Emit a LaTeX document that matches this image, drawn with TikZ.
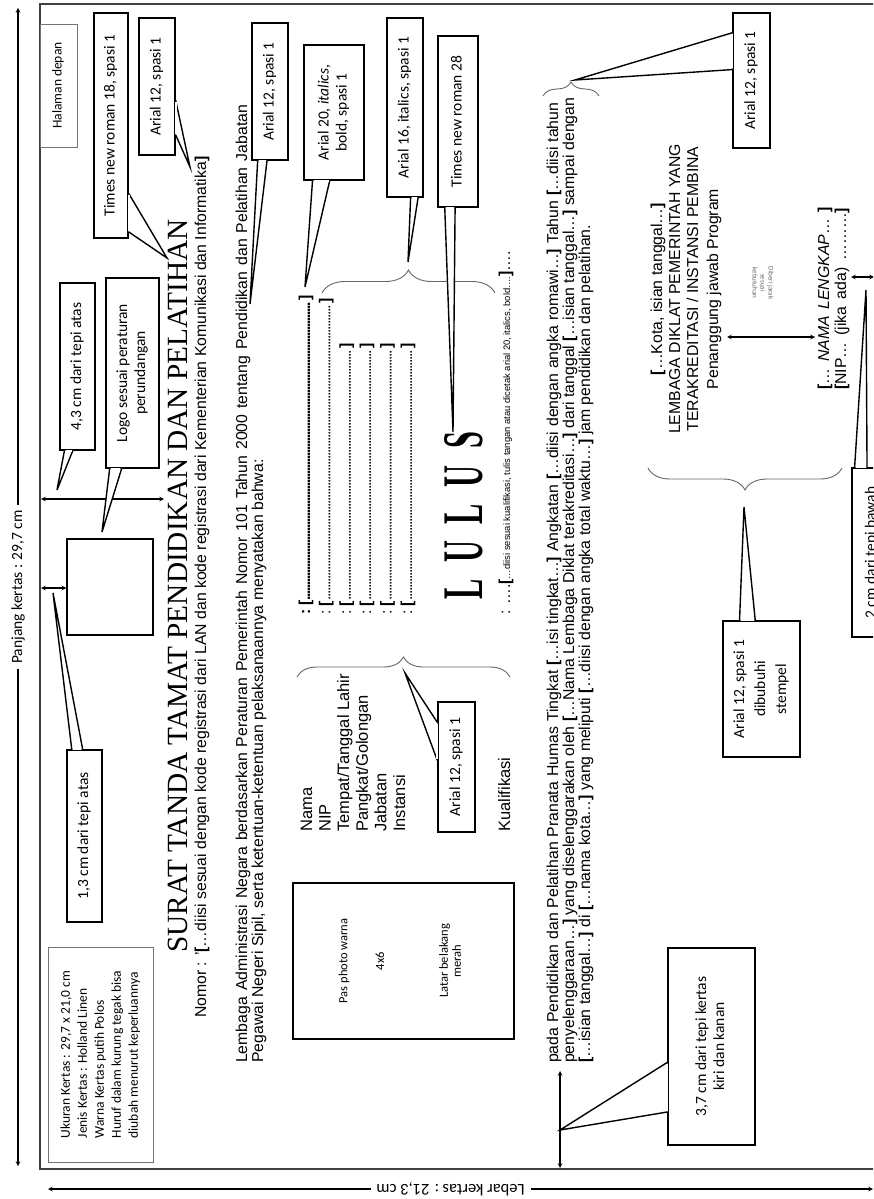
\documentclass[tikz,border=0pt]{standalone}
\usepackage{fontspec}
\usepackage{graphicx}
\setmainfont{Liberation Sans}
\newfontfamily\calfont{Carlito}
\newfontfamily\tnrfont{Liberation Serif}
\usetikzlibrary{calc,decorations.pathreplacing}

\newcommand{\vtext}[1]{\rotatebox{90}{\begin{tabular}{@{}c@{}}#1\end{tabular}}}
\newcommand{\dotrow}{\leaders\hbox to 3pt{\hss.\hss}\hfill}
\newcommand{\obr}{{\bfseries[}}
\newcommand{\cbr}{{\bfseries]}}
% wedge of a callout: box, two corners of one side, two fractions on it, tip
\newcommand{\callptr}[6]{%
  \coordinate (#1-a) at ($(#1.#2)!#4!(#1.#3)$);
  \coordinate (#1-b) at ($(#1.#2)!#5!(#1.#3)$);
  \filldraw[fill=white, line width=1.4pt] (#1-a) -- (#6) -- (#1-b);
  \draw[white, line width=2.2pt, shorten <=1.2pt, shorten >=1.2pt] (#1-a) -- (#1-b);}

\tikzset{
  calloutbox/.style={draw, line width=1.4pt, fill=white, inner sep=0pt,
    font=\calfont\fontsize{15.5}{18}\selectfont},
  thinbox/.style={draw=black!55, line width=0.8pt, inner sep=0pt},
  bodytext/.style={rotate=90, anchor=base west, inner sep=0pt,
    font=\fontsize{15.8}{16.5}\selectfont},
  centertext/.style={rotate=90, anchor=base, inner sep=0pt,
    font=\fontsize{15.8}{16.5}\selectfont},
  dimarrow/.style={<->, line width=1.1pt},
  curly/.style={decorate, decoration={brace, amplitude=#1}, draw=black!60, line width=0.9pt},
}

\begin{document}
\begin{tikzpicture}[x=1pt,y=-1pt,>=stealth]
\clip (0,0) rectangle (873,1199);

% kertas dan ukurannya
\draw[line width=1.3pt, black!75] (40,4) rectangle (876,1169);
\coordinate (ptop) at (18,8);
\coordinate (pbot) at (18,1166);
\draw[dimarrow] (ptop) -- node[rotate=90, fill=white, inner sep=5pt,
  font=\calfont\fontsize{15.5}{17}\selectfont] (panjang) {Panjang kertas : 29,7 cm} (pbot);
\coordinate (lleft) at (48,1189);
\coordinate (lright) at (873,1189);
\draw[dimarrow] (lleft) -- node[pos=0.488, rotate=180, fill=white, inner sep=6pt,
  font=\calfont\fontsize{16.5}{18}\selectfont] (lebar) {Lebar kertas : 21,3 cm} (lright);

\node[thinbox, minimum width=37pt, minimum height=123pt,
  font=\calfont\fontsize{13.5}{15}\selectfont] (halaman) at (58.5,85.5) {\vtext{Halaman depan}};
\node[thinbox, minimum width=105pt, minimum height=215pt,
  font=\calfont\fontsize{13.5}{17}\selectfont] (catatan) at (100.5,1054.5)
  {\rotatebox{90}{\begin{tabular}{@{}l@{}}Ukuran Kertas : 29,7 x 21,0 cm\\ Jenis Kertas : Holland Linen\\
   Warna Kertas putih Polos\\ *Huruf dalam kurung tegak bisa\\ diubah menurut keperluannya\end{tabular}}};

\node[draw, line width=1.4pt, minimum width=86pt, minimum height=96pt] (logo) at (110,587) {};

% kepala surat
\node[bodytext, font=\tnrfont\fontsize{29.3}{31}\selectfont] (judul) at (187,953)
  {SURAT TANDA TAMAT PENDIDIKAN DAN PELATIHAN};
\node[bodytext] (nomor) at (206,1018)
  {Nomor : '\obr…diisi sesuai dengan kode registrasi dari LAN dan kode registrasi dari Kementerian Komunikasi dan Informatika\cbr};
\node[bodytext] (isi1) at (247,1063)
  {\makebox[958pt][s]{Lembaga Administrasi Negara berdasarkan Peraturan Pemerintah Nomor 101 Tahun 2000 tentang Pendidikan dan Pelatihan Jabatan}};
\node[bodytext] (isi2) at (263,1063)
  {Pegawai Negeri Sipil, serta ketentuan-ketentuan pelaksanaannya menyatakan bahwa:};

% foto
\node[draw, line width=2.6pt, minimum width=221pt, minimum height=156pt] (foto) at (403.5,961) {};
\node[rotate=90, inner sep=0pt, font=\calfont\fontsize{12.5}{13}\selectfont] (fotoa) at (344,961) {Pas photo warna};
\node[rotate=90, inner sep=0pt, font=\calfont\fontsize{12.5}{13}\selectfont] (fotob) at (380,961) {4x6};
\node[rotate=90, inner sep=0pt, align=center, font=\calfont\fontsize{12.5}{13}\selectfont] (fotoc) at (450,961) {Latar belakang\\merah};

% data peserta
\foreach \lbl [count=\i from 0] in {Nama,NIP,Tempat/Tanggal Lahir,Pangkat/Golongan,Jabatan,Instansi}
  \node[bodytext, font=\fontsize{16.5}{17}\selectfont] (fld\i) at ({312+18.6*\i},832) {\lbl};
\node[bodytext, font=\fontsize{16.5}{17}\selectfont] (fldk) at (510,832) {Kualifikasi};

\node[bodytext, font=\fontsize{15.8}{16.5}\selectfont\bfseries] (row0) at (310,615) {\makebox[319pt]{:\ [\dotrow]}};
\node[bodytext] (row1) at (330.4,615) {\makebox[317pt]{:\ \obr\dotrow\cbr}};
\foreach \i in {2,...,5}
  \node[bodytext] (row\i) at ({310+20.4*\i},615) {\makebox[272pt]{:\ \obr\dotrow\cbr}};
\node[bodytext] (rowk) at (510,615)
  {: ….\obr{\fontsize{9.4}{10}\selectfont …diisi sesuai kualifikasi, tulis tangan atau dicetak arial 20, italics, bold….}\cbr….};

\node[bodytext, font=\tnrfont\bfseries] (lulus) at (482,600)
  {\resizebox{168pt}{38pt}{L\hspace{0.55em}U\hspace{0.55em}L\hspace{0.55em}U\hspace{0.55em}S}};

% paragraf kedua
\node[bodytext] (par1) at (558,1063)
  {\makebox[960pt][s]{pada Pendidikan dan Pelatihan Pranata Humas Tingkat \obr…isi tingkat…\cbr{} Angkatan \obr…diisi dengan angka romawi…\cbr{} Tahun \obr…diisi tahun}};
\node[bodytext] (par2) at (574,1063)
  {\makebox[965pt][s]{penyelenggaraan…\cbr{} yang diselenggarakan oleh \obr…Nama Lembaga Diklat terakreditasi…\cbr{} dari tanggal \obr…isian tanggal…\cbr{} sampai dengan}};
\node[bodytext] (par3) at (590,1063)
  {\obr…isian tanggal…\cbr{} di \obr…nama kota…\cbr{} yang meliputi \obr…diisi dengan angka total waktu…\cbr{} jam pendidikan dan pelatihan.};

% tanda tangan
\node[centertext] (ttd1) at (662,289) {\obr…Kota, isian tanggal…\cbr};
\node[centertext] (ttd2) at (680,289) {LEMBAGA DIKLAT PEMERINTAH YANG};
\node[centertext] (ttd3) at (698,289) {TERAKREDITASI / INSTANSI PEMBINA};
\node[centertext] (ttd4) at (718,289) {Penanggung jawab Program};
\node[bodytext] (nama) at (829,390) {\makebox[183pt][s]{\obr… \textit{NAMA LENGKAP}… \cbr}};
\node[bodytext] (nip) at (846,390) {\makebox[182pt][s]{\obr NIP… (jika ada) ………\cbr}};
\node[rotate=-90, align=center, inner sep=0pt, text=black!60,
  font=\calfont\fontsize{7}{8}\selectfont] (jarak) at (763,283) {Diberi jarak\\sesuai\\kebutuhan};

% ukuran jarak
\coordinate (tepi43) at (41,499);
\coordinate (judul43) at (164,499);
\draw[dimarrow] (tepi43) -- (judul43);
\coordinate (tepi13) at (41,588);
\draw[dimarrow] (tepi13) -- (logo.west |- tepi13);
\coordinate (kiri37) at (560,1168);
\coordinate (teks37) at (560,1071);
\draw[dimarrow] (kiri37) -- (teks37);
\coordinate (ttdend) at (727,337);
\coordinate (namatop) at (815,337);
\draw[dimarrow] (ttdend) -- (namatop);
\coordinate (nipend) at (851,277);
\coordinate (bawah) at (874,277);
\draw[dimarrow] (bawah) -- (nipend);

% kurung kurawal
\draw[curly=20pt] (297,677) -- (510,677);
\draw[curly=23pt] (322,293) -- (495,293);
\draw[curly=14pt] (543,96) -- (599,96);
\draw[curly=22pt] (842,468) -- (648,468);

% keterangan
\node[calloutbox, minimum width=34pt, minimum height=225pt] (tnr18) at (111,125.5) {\vtext{Times new roman 18, spasi 1}};
\coordinate (t1) at (167,258);
\callptr{tnr18}{north east}{south east}{0.8}{0.97}{t1}
\node[calloutbox, minimum width=36pt, minimum height=137pt] (arnomor) at (157,86.5) {\vtext{Arial 12, spasi 1}};
\coordinate (t2) at (190,167);
\callptr{arnomor}{north east}{south east}{0.6}{0.85}{t2}
\node[calloutbox, minimum width=36pt, minimum height=137pt] (arisi) at (270,91.5) {\vtext{Arial 12, spasi 1}};
\coordinate (t3) at (250,304);
\callptr{arisi}{south west}{south east}{0.17}{0.42}{t3}
\node[calloutbox, minimum width=35pt, minimum height=167pt] (atas43) at (77.5,366.5) {\vtext{4,3 cm dari tepi atas}};
\coordinate (t4) at (57,490);
\callptr{atas43}{south west}{south east}{0.14}{0.37}{t4}
\node[calloutbox, minimum width=53pt, minimum height=190pt] (logoket) at (132.5,373) {\vtext{Logo sesuai peraturan\\perundangan}};
\coordinate (t5) at (102,532);
\callptr{logoket}{south west}{south east}{0.08}{0.3}{t5}
\node[calloutbox, minimum width=35pt, minimum height=172pt] (atas13) at (84.5,836) {\vtext{1,3 cm dari tepi atas}};
\coordinate (t6) at (53,593);
\callptr{atas13}{north west}{north east}{0.15}{0.45}{t6}
\node[calloutbox, minimum width=60pt, minimum height=135pt] (ar20) at (334,112.5) {\vtext{Arial 20, \textit{italics},\\bold, spasi 1}};
\coordinate (t7) at (305,287);
\callptr{ar20}{south west}{south east}{0.15}{0.43}{t7}
\node[calloutbox, minimum width=36pt, minimum height=179pt] (ar16) at (405,107.5) {\vtext{Arial 16, italics, spasi 1}};
\coordinate (t8) at (408,262);
\callptr{ar16}{south west}{south east}{0.65}{0.85}{t8}
\node[calloutbox, minimum width=40pt, minimum height=171pt] (tnr28) at (458,121.5) {\vtext{Times new roman 28}};
\coordinate (t9) at (453,432);
\callptr{tnr28}{south west}{south east}{0.18}{0.43}{t9}
\node[calloutbox, minimum width=37pt, minimum height=130pt] (arfld) at (456.5,767) {\vtext{Arial 12, spasi 1}};
\coordinate (t10) at (405,673);
\callptr{arfld}{north west}{south west}{0.16}{0.45}{t10}
\node[calloutbox, minimum width=37pt, minimum height=135pt] (arpar) at (751.5,80.5) {\vtext{Arial 12, spasi 1}};
\coordinate (t11) at (575,80);
\callptr{arpar}{north west}{south west}{0.15}{0.42}{t11}
\node[calloutbox, minimum width=87pt, minimum height=197pt] (kiri37ket) at (711.5,1046.5) {\vtext{3,7 cm dari tepi kertas\\kiri dan kanan}};
\coordinate (t12) at (560,1130);
\callptr{kiri37ket}{north west}{south west}{0.58}{0.83}{t12}
\node[calloutbox, minimum width=77pt, minimum height=136pt] (stempel) at (761.5,689) {\vtext{Arial 12, spasi 1\\[3pt]dibubuhi\\[3pt]stempel}};
\coordinate (t13) at (744,507);
\callptr{stempel}{north west}{north east}{0.22}{0.42}{t13}
\node[calloutbox, minimum width=40pt, minimum height=169pt] (bawah2) at (872,552.5) {\vtext{2 cm dari tepi bawah}};
\coordinate (t14) at (866,290);
\callptr{bawah2}{north west}{north east}{0.08}{0.38}{t14}
\end{tikzpicture}
\end{document}
